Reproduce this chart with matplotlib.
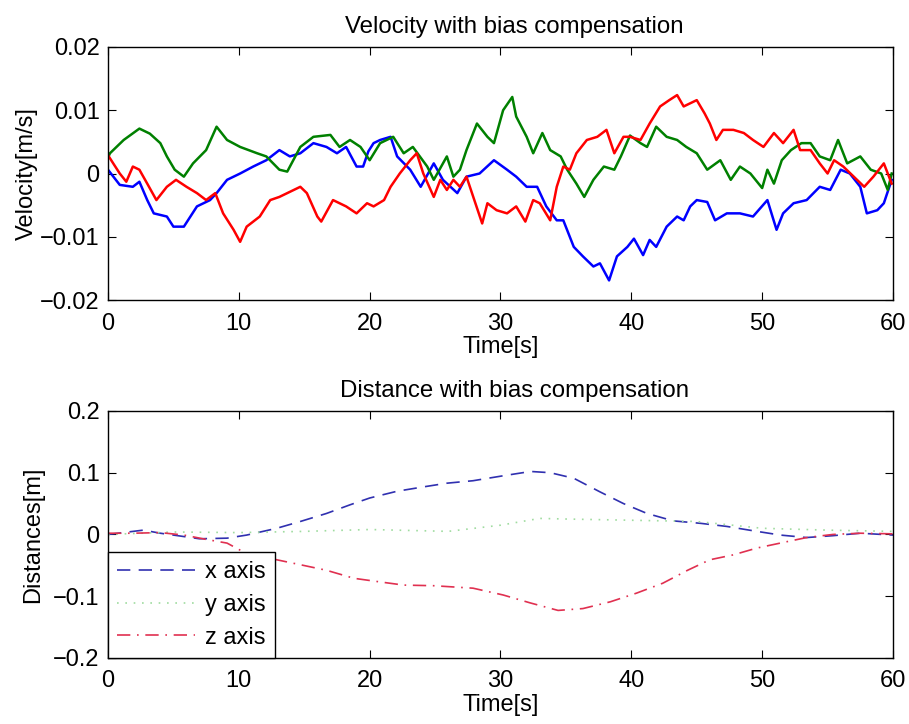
import matplotlib
matplotlib.use("Agg")
import matplotlib.pyplot as plt

plt.rcParams['font.family'] = ['Liberation Sans', 'DejaVu Sans']

# Velocity traces (time in s, velocity in m/s)
t_vx = [0, 0.9, 1.9, 2.4, 3.0, 3.5, 4.5, 5.0, 5.8, 6.3, 6.8, 7.8, 8.3, 9.1, 10.1, 11.1, 12.1,
        13.1, 13.9, 14.7, 15.7, 16.7, 17.5, 18.2, 19.0, 19.5, 19.9, 20.3, 20.8, 21.6, 22.1,
        23.1, 23.9, 24.9, 25.6, 26.7, 27.4, 28.4, 29.5, 30.5, 31.2, 32.0, 32.8, 33.5, 34.3,
        34.8, 35.6, 36.3, 37.1, 37.6, 38.3, 38.9, 39.7, 40.2, 40.9, 41.4, 41.9, 42.7, 43.5,
        44.0, 44.5, 45.0, 45.8, 46.4, 47.3, 48.3, 49.3, 50.4, 51.1, 51.6, 52.4, 53.4, 54.4,
        55.2, 56.0, 56.7, 57.5, 58.0, 58.8, 59.3, 59.9]
vx = [0.06, -0.18, -0.21, -0.13, -0.42, -0.63, -0.68, -0.84, -0.84, -0.68, -0.52, -0.42, -0.31,
      -0.10, 0.0, 0.11, 0.21, 0.37, 0.27, 0.32, 0.48, 0.42, 0.32, 0.42, 0.11, 0.11, 0.35, 0.48,
      0.53, 0.58, 0.27, 0.06, -0.21, 0.16, -0.10, -0.31, -0.05, 0.0, 0.21, 0.06, -0.05, -0.21,
      -0.21, -0.52, -0.74, -0.74, -1.16, -1.31, -1.47, -1.42, -1.69, -1.31, -1.16, -1.03,
      -1.29, -1.05, -1.16, -0.84, -0.68, -0.74, -0.52, -0.42, -0.45, -0.74, -0.63, -0.63,
      -0.68, -0.42, -0.89, -0.63, -0.47, -0.42, -0.21, -0.26, 0.06, 0.0, -0.21, -0.63, -0.58,
      -0.47, -0.10]

t_vy = [0, 0.15, 1.2, 2.4, 3.2, 4.0, 4.5, 5.1, 5.8, 6.5, 7.5, 8.3, 9.1, 10.1, 11.4, 12.1, 13.1,
        13.7, 14.7, 15.7, 17.0, 17.7, 18.5, 19.3, 20.0, 20.8, 21.8, 22.6, 23.3, 24.4, 24.9,
        25.9, 26.4, 26.9, 27.4, 28.2, 29.0, 29.5, 30.2, 30.9, 31.2, 32.0, 32.5, 33.2, 33.8,
        34.6, 35.1, 35.8, 36.4, 37.1, 37.9, 38.7, 39.2, 39.9, 40.7, 41.2, 41.9, 42.7, 43.5,
        44.2, 45.0, 45.8, 46.8, 47.6, 48.3, 49.1, 50.0, 50.4, 50.9, 51.5, 52.2, 53.0, 53.7,
        54.4, 55.2, 55.8, 56.5, 57.5, 58.3, 59.1, 59.6, 59.9]
vy = [0.25, 0.32, 0.53, 0.71, 0.63, 0.48, 0.27, 0.06, -0.05, 0.16, 0.37, 0.74, 0.53, 0.42, 0.32,
      0.27, 0.06, 0.03, 0.42, 0.58, 0.61, 0.42, 0.53, 0.42, 0.21, 0.48, 0.58, 0.32, 0.42, 0.11,
      -0.10, 0.27, -0.05, 0.06, 0.37, 0.79, 0.58, 0.48, 1.0, 1.21, 0.90, 0.58, 0.32, 0.64,
      0.37, 0.27, 0.06, -0.16, -0.37, -0.10, 0.11, 0.06, 0.27, 0.60, 0.48, 0.42, 0.74, 0.58,
      0.53, 0.42, 0.32, 0.06, 0.21, -0.10, 0.11, 0.0, -0.23, 0.06, -0.16, 0.21, 0.37, 0.48,
      0.48, 0.27, 0.21, 0.53, 0.16, 0.27, 0.06, 0.0, -0.26, 0.0]

t_vz = [0, 0.4, 0.9, 1.4, 1.9, 2.4, 3.0, 3.7, 4.5, 5.2, 6.0, 6.8, 7.5, 8.2, 8.8, 9.6, 10.1, 10.6,
        11.6, 12.4, 13.1, 13.7, 14.7, 15.2, 16.0, 16.3, 17.2, 18.2, 19.0, 19.8, 20.3, 21.1,
        21.6, 22.3, 23.1, 23.6, 24.1, 24.9, 25.4, 25.9, 26.4, 26.9, 27.4, 28.0, 28.6, 29.0,
        29.7, 30.5, 31.2, 31.9, 32.5, 33.0, 33.8, 34.3, 34.8, 35.3, 35.8, 36.6, 37.4, 38.1,
        38.7, 39.4, 39.9, 40.7, 41.4, 42.2, 42.9, 43.5, 44.0, 44.5, 45.0, 45.6, 46.0, 46.5,
        47.0, 47.8, 48.6, 49.3, 50.1, 50.9, 51.6, 52.4, 52.9, 53.7, 54.4, 55.0, 55.5, 56.2,
        57.0, 57.8, 58.5, 59.3, 59.9]
vz = [0.29, 0.16, 0.0, -0.13, 0.11, 0.06, -0.16, -0.42, -0.21, -0.10, -0.21, -0.31, -0.42,
      -0.31, -0.63, -0.89, -1.08, -0.84, -0.68, -0.42, -0.37, -0.31, -0.21, -0.31, -0.68,
      -0.76, -0.42, -0.52, -0.63, -0.47, -0.52, -0.42, -0.21, 0.0, 0.21, 0.32, 0.0, -0.37,
      -0.10, -0.26, -0.10, -0.21, -0.05, -0.42, -0.79, -0.47, -0.58, -0.63, -0.52, -0.76,
      -0.42, -0.47, -0.74, -0.21, 0.11, 0.06, 0.32, 0.53, 0.58, 0.69, 0.32, 0.58, 0.58, 0.53,
      0.79, 1.06, 1.16, 1.24, 1.06, 1.11, 1.16, 0.95, 0.79, 0.53, 0.69, 0.69, 0.64, 0.53,
      0.42, 0.64, 0.48, 0.69, 0.37, 0.37, 0.16, 0.0, 0.21, 0.11, -0.05, -0.21, -0.05, 0.16,
      -0.16]

# Distance traces (time in s, distance in m)
t_dx = [0, 2.7, 4.0, 7.0, 9.1, 10.6, 12.9, 14.7, 16.7, 18.5, 20.0, 22.1, 24.1, 25.9, 27.9, 30.2,
        32.3, 33.8, 35.6, 37.6, 39.4, 41.2, 43.2, 45.3, 47.3, 49.3, 51.4, 53.4, 55.4, 57.5, 60]
dx = [0.0, 0.007, 0.002, -0.007, -0.006, -0.001, 0.010, 0.021, 0.034, 0.048, 0.059, 0.070,
      0.077, 0.083, 0.087, 0.095, 0.102, 0.100, 0.091, 0.069, 0.050, 0.034, 0.022, 0.018,
      0.013, 0.006, -0.001, -0.005, -0.002, 0.002, -0.001]

t_dy = [0, 5, 10, 15, 20, 26, 30, 33, 35, 40, 45, 50, 55, 60]
dy = [0.0, 0.004, 0.003, 0.005, 0.008, 0.005, 0.015, 0.026, 0.025, 0.023, 0.021, 0.010, 0.007,
      0.005]

t_dz = [0, 1.9, 4.0, 5.8, 7.5, 9.1, 10.5, 12.9, 14.7, 16.7, 18.8, 20.5, 22.6, 24.9, 27.9, 30.2,
        32.3, 34.4, 36.3, 38.4, 40.4, 42.4, 44.3, 46.0, 47.8, 49.6, 51.6, 53.4, 55.4, 57.5, 60]
dz = [0.002, 0.002, 0.003, -0.001, -0.008, -0.014, -0.030, -0.041, -0.049, -0.058, -0.071,
      -0.076, -0.082, -0.083, -0.087, -0.098, -0.111, -0.123, -0.120, -0.109, -0.095, -0.079,
      -0.058, -0.041, -0.033, -0.022, -0.013, -0.005, 0.0, 0.002, 0.001]

fig = plt.figure(figsize=(9.09, 7.24), dpi=100)
ax1 = fig.add_axes([0.1188, 0.5856, 0.8636, 0.3495])
ax2 = fig.add_axes([0.1188, 0.0912, 0.8636, 0.3412])

ax1.plot(t_vx, [v * 0.01 for v in vx], color='#0000ff', lw=1.8)
ax1.plot(t_vy, [v * 0.01 for v in vy], color='#008000', lw=1.8)
ax1.plot(t_vz, [v * 0.01 for v in vz], color='#ff0000', lw=1.8)
ax1.set_xlim(0, 60)
ax1.set_ylim(-0.02, 0.02)
ax1.set_yticks([-0.02, -0.01, 0, 0.01, 0.02])
ax1.set_yticklabels(['\u22120.02', '\u22120.01', '0', '0.01', '0.02'])
ax1.set_title('Velocity with bias compensation', fontsize=17.3, pad=10, x=0.518)
ax1.set_xlabel('Time[s]', fontsize=17, labelpad=1)
ax1.set_ylabel('Velocity[m/s]', fontsize=17)
ax1.yaxis.set_label_coords(-0.089, 0.5)

ax2.plot(t_dx, dx, color='#3030b0', lw=1.2, ls=(0, (8, 5)), label='x axis')
ax2.plot(t_dy, dy, color='#a0dca0', lw=1.2, ls=(0, (1, 4)), label='y axis')
ax2.plot(t_dz, dz, color='#e03050', lw=1.2, ls=(0, (8, 4, 1, 4)), label='z axis')
ax2.set_xlim(0, 60)
ax2.set_ylim(-0.2, 0.2)
ax2.set_yticks([-0.2, -0.1, 0, 0.1, 0.2])
ax2.set_yticklabels(['\u22120.2', '\u22120.1', '0', '0.1', '0.2'])
ax2.set_title('Distance with bias compensation', fontsize=17.3, pad=10, x=0.518)
ax2.set_xlabel('Time[s]', fontsize=17, labelpad=1)
ax2.set_ylabel('Distances[m]', fontsize=17)
ax2.yaxis.set_label_coords(-0.081, 0.5)
leg = ax2.legend(loc='lower left', borderaxespad=0, fancybox=False, framealpha=1,
                 edgecolor='black', fontsize=17, handlelength=3.3, labelspacing=0.45,
                 borderpad=0.4, handletextpad=0.4)
leg.get_frame().set_linewidth(1.0)

for ax in (ax1, ax2):
    ax.set_xticks([0, 10, 20, 30, 40, 50, 60])
    ax.tick_params(direction='in', top=True, right=True, length=6, labelsize=17)
    ax.tick_params(axis='x', pad=9)
    ax.tick_params(axis='y', pad=6)
    for s in ax.spines.values():
        s.set_linewidth(1.0)

fig.savefig('out.png', dpi=100)
